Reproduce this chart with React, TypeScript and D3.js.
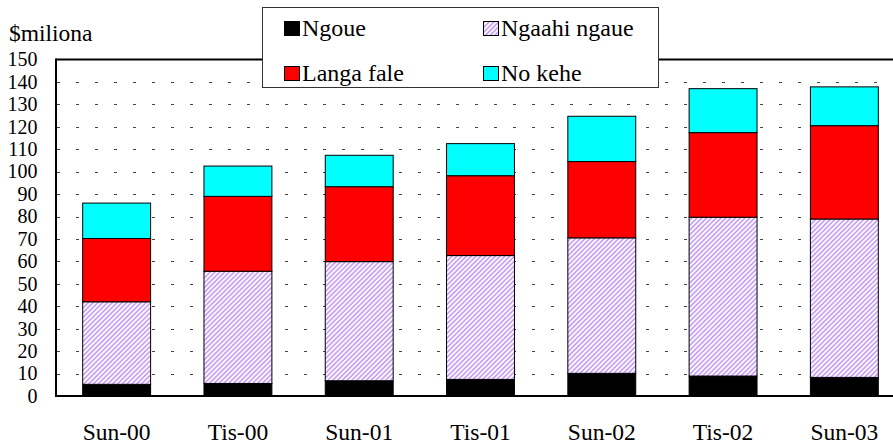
import * as d3 from 'd3';

// periods and values ($ million)
const periods = ['Sun-00', 'Tis-00', 'Sun-01', 'Tis-01', 'Sun-02', 'Tis-02', 'Sun-03'];
const ngoue = [5.2, 5.6, 6.8, 7.4, 10.1, 8.9, 8.3];
const ngaahiNgaue = [36.8, 50.0, 53.1, 55.2, 60.4, 70.8, 70.6];
const langaFale = [28.2, 33.4, 33.4, 35.6, 34.0, 37.7, 41.6];
const noKehe = [15.8, 13.5, 14.0, 14.3, 20.2, 19.6, 17.3];
const yTicks = [0, 10, 20, 30, 40, 50, 60, 70, 80, 90, 100, 110, 120, 130, 140, 150];
const seriesNames = ['Ngoue', 'Ngaahi ngaue', 'Langa fale', 'No kehe'];

const W = 893;
const H = 446;
const serif = 'Liberation Serif';
const fills = ['#000000', 'url(#hatch)', '#ff0000', '#00ffff'];
const plot = { left: 56, right: 905, top: 59.5, bottom: 396 };

const App = () => {
  const columns = [ngoue, ngaahiNgaue, langaFale, noKehe];
  const rows = periods.map((p, i) => {
    const r: any = { period: p };
    seriesNames.forEach((n, k) => (r[n] = columns[k][i]));
    return r;
  });
  const stacked = d3.stack().keys(seriesNames)(rows);

  const x = d3.scaleBand()
    .domain(periods)
    .range([plot.left, plot.right])
    .paddingInner(0.44)
    .paddingOuter(0.22);

  const y = d3.scaleLinear()
    .domain([0, 150])
    .range([plot.bottom, plot.top]);

  const legendPos = [[284, 21], [483, 21], [284, 66], [483, 66]];

  return (
    <svg width={W} height={H} style={{ position: 'absolute', left: 0, top: 0, background: '#fff' }}>
      <defs>
        <pattern id="hatch" patternUnits="userSpaceOnUse" width={3.4} height={3.4} patternTransform="rotate(45)">
          <rect width={3.4} height={3.4} fill="#fff" />
          <line x1={1} y1={0} x2={1} y2={3.4} stroke="#c398f4" strokeWidth={1.6} />
        </pattern>
      </defs>

      {/* dashed gridlines */}
      <g stroke="#444" strokeWidth={1} strokeDasharray="3 16">
        {yTicks.filter(t => t > 0 && t < 150).map(t => (
          <line key={t} x1={plot.left + 1} x2={W} y1={Math.round(y(t)) + 0.5} y2={Math.round(y(t)) + 0.5} />
        ))}
      </g>

      {/* stacked bars */}
      {stacked.map((s, i) => (
        <g key={s.key} fill={fills[i]} stroke="#000" strokeWidth={1}>
          {s.map(d => (
            <rect
              key={d.data.period}
              x={x(d.data.period)}
              y={y(d[1])}
              width={x.bandwidth()}
              height={y(d[0]) - y(d[1])}
            />
          ))}
        </g>
      ))}

      {/* frame */}
      <g stroke="#000" strokeWidth={2}>
        <line x1={plot.left} x2={plot.left} y1={plot.top - 1} y2={plot.bottom + 1} />
        <line x1={plot.left} x2={W} y1={plot.top} y2={plot.top} />
        <line x1={plot.left} x2={W} y1={plot.bottom} y2={plot.bottom} />
      </g>

      {/* y tick labels */}
      <g fontFamily={serif} fontSize={20} textAnchor="end">
        {yTicks.map(t => (
          <text key={t} x={37.5} y={y(t)} dy="0.34em">{t}</text>
        ))}
      </g>

      {/* x labels */}
      <g fontFamily={serif} fontSize={23.5} textAnchor="middle">
        {periods.map(p => (
          <text key={p} x={x(p)! + x.bandwidth() / 2} y={440}>{p}</text>
        ))}
      </g>

      <text x={9} y={41} fontFamily={serif} fontSize={23.5}>$miliona</text>

      {/* legend */}
      <rect x={262.5} y={7.5} width={396} height={80} fill="#fff" stroke="#333" strokeWidth={1} />
      {seriesNames.map((n, i) => {
        const [px, py] = legendPos[i];
        return (
          <g key={n}>
            <rect x={px + 0.5} y={py + 0.5} width={15} height={14} fill={fills[i]} stroke="#000" strokeWidth={1} />
            <text x={px + 18} y={py + 15} fontFamily={serif} fontSize={24}>{n}</text>
          </g>
        );
      })}
    </svg>
  );
};

export default App;
